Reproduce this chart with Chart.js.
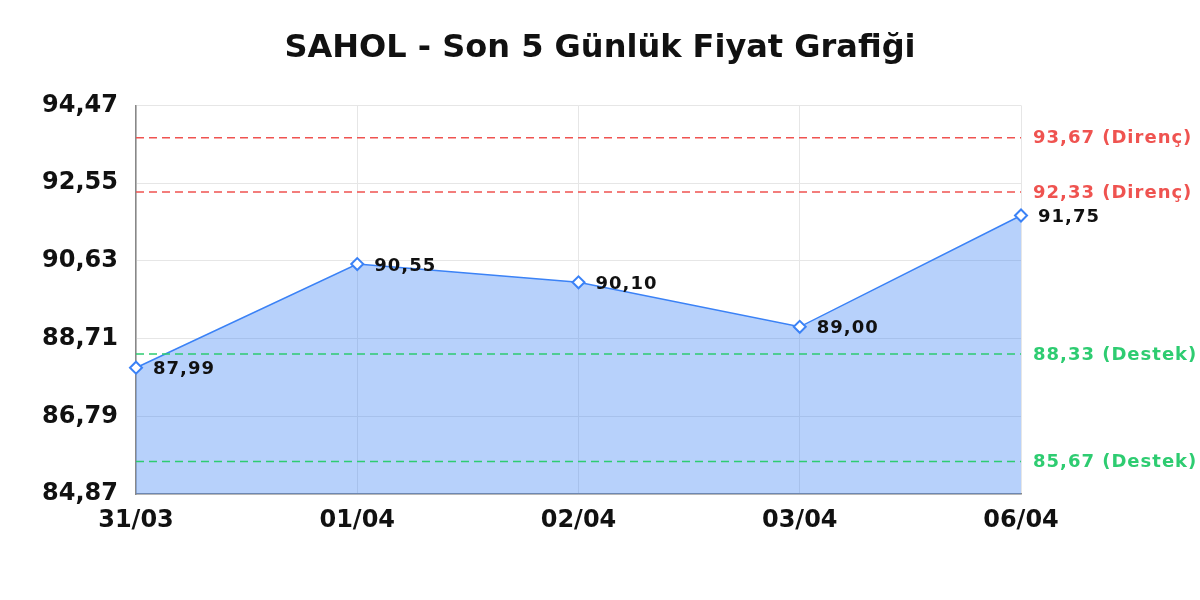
<!DOCTYPE html>
<html lang="tr">
<head>
    <meta charset="UTF-8">
    <title>SAHOL - Son 5 Günlük Fiyat Grafiği</title>
    <script src="https://cdn.jsdelivr.net/npm/chart.js@4.4.1/dist/chart.umd.min.js"></script>
    <style>
        html, body { margin: 0; padding: 0; background: #fff; }
        #wrap { width: 1200px; height: 600px; }
    </style>
</head>
<body>
<div id="wrap"><canvas id="grafik" width="1200" height="600"></canvas></div>
<script>
    // veriler
    const tarihler = ['31/03', '01/04', '02/04', '03/04', '06/04'];
    const fiyatlar = [87.99, 90.55, 90.10, 89.00, 91.75];
    const direncler = [93.67, 92.33];
    const destekler = [88.33, 85.67];
    const yTikler = [84.87, 86.79, 88.71, 90.63, 92.55, 94.47];

    const KIRMIZI = '#ef5350';
    const YESIL = '#2ecc71';
    const MAVI = '#3b82f6';
    const YAZI = "'DejaVu Sans', sans-serif";

    function virgul(v) {
        return v.toFixed(2).replace('.', ',');
    }

    function seviyeSeti(deger, renk, etiket) {
        return {
            label: etiket,
            data: tarihler.map(() => deger),
            borderColor: renk,
            borderWidth: 1.5,
            borderDash: [8, 5],
            pointRadius: 0,
            fill: false,
            order: 1,
            seviye: true
        };
    }

    let setler = [{
        label: 'Fiyat',
        data: fiyatlar,
        borderColor: MAVI,
        borderWidth: 1.5,
        backgroundColor: 'rgba(66, 133, 244, 0.38)',
        fill: 'start',
        tension: 0,
        order: 2,
        pointStyle: 'rectRot',
        pointRadius: 6,
        pointBorderWidth: 2,
        pointBorderColor: MAVI,
        pointBackgroundColor: '#fff'
    }];
    direncler.forEach(d => setler.push(seviyeSeti(d, KIRMIZI, virgul(d) + ' (Direnç)')));
    destekler.forEach(d => setler.push(seviyeSeti(d, YESIL, virgul(d) + ' (Destek)')));

    // nokta etiketleri ve sağdaki seviye yazıları
    const etiketEklentisi = {
        id: 'etiketler',
        afterDatasetsDraw(chart) {
            const ctx = chart.ctx;
            const y = chart.scales.y;
            const alan = chart.chartArea;
            ctx.save();
            ctx.font = 'bold 18px ' + YAZI;
            ctx.letterSpacing = '1px';
            ctx.textBaseline = 'middle';
            ctx.textAlign = 'left';

            const meta = chart.getDatasetMeta(0);
            meta.data.forEach((p, i) => {
                ctx.fillStyle = '#111';
                ctx.fillText(virgul(fiyatlar[i]), p.x + 17, p.y + 2);
            });

            chart.data.datasets.forEach(ds => {
                if (!ds.seviye) return;
                ctx.fillStyle = ds.borderColor;
                ctx.fillText(ds.label, alan.right + 12, y.getPixelForValue(ds.data[0]) + 1);
            });
            ctx.restore();
        }
    };

    new Chart(document.getElementById('grafik'), {
        type: 'line',
        data: { labels: tarihler, datasets: setler },
        options: {
            responsive: false,
            animation: false,
            layout: { padding: 0 },
            plugins: {
                legend: { display: false },
                tooltip: { enabled: false },
                title: {
                    display: true,
                    text: 'SAHOL - Son 5 Günlük Fiyat Grafiği',
                    color: '#111',
                    font: { family: YAZI, size: 32, weight: 'bold' },
                    padding: { top: 29, bottom: 38 }
                }
            },
            scales: {
                x: {
                    offset: false,
                    grid: { color: '#e6e6e6', drawTicks: false },
                    border: { color: '#888', width: 1.5 },
                    ticks: {
                        color: '#111',
                        padding: 12,
                        maxRotation: 0,
                        font: { family: YAZI, size: 24, weight: 'bold' }
                    },
                    afterFit(s) { s.height = 106; }
                },
                y: {
                    min: yTikler[0],
                    max: yTikler[yTikler.length - 1],
                    grid: { color: '#e6e6e6', drawTicks: false },
                    border: { color: '#888', width: 1.5 },
                    afterBuildTicks(s) { s.ticks = yTikler.map(v => ({ value: v })); },
                    ticks: {
                        color: '#111',
                        padding: 18,
                        font: { family: YAZI, size: 24, weight: 'bold' },
                        callback: v => virgul(v)
                    },
                    afterFit(s) { s.width = 136; }
                },
                // sağdaki etiketler için boşluk
                bos: {
                    type: 'linear',
                    position: 'right',
                    grid: { drawOnChartArea: false, drawTicks: false },
                    border: { display: false },
                    ticks: { display: false },
                    afterFit(s) { s.width = 179; }
                }
            }
        },
        plugins: [etiketEklentisi]
    });
</script>
</body>
</html>
